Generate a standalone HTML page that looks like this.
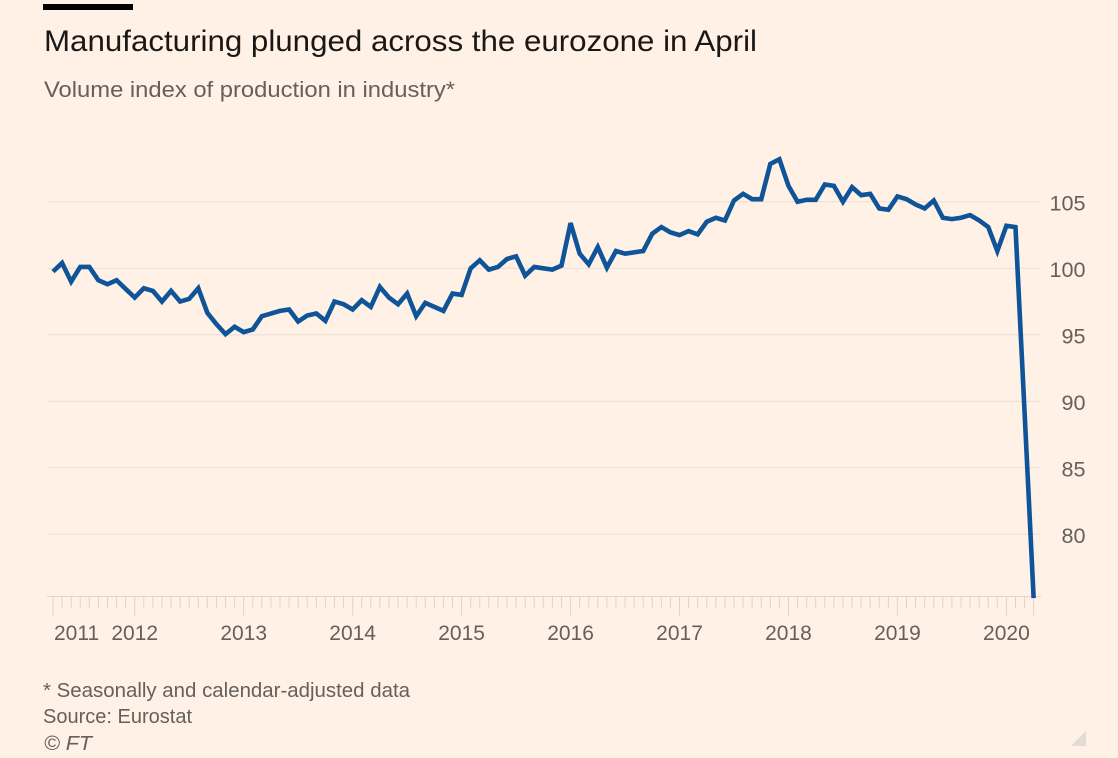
<!DOCTYPE html>
<html lang="en">
<head>
<meta charset="utf-8">
<title>Manufacturing plunged across the eurozone in April</title>
<style>
html,body{margin:0;padding:0;background:#fff1e5;}
svg{display:block;}
text{font-family:"Liberation Sans",sans-serif;}
</style>
</head>
<body>
<svg id="chart" xmlns="http://www.w3.org/2000/svg" width="1118" height="758" viewBox="0 0 1118 758">
  <rect width="1118" height="758" fill="#fff1e5"/>
  <rect x="43" y="4" width="90" height="6" fill="#000"/>
  <text x="44" y="51" font-size="30" fill="#1a1816" textLength="713" lengthAdjust="spacingAndGlyphs">Manufacturing plunged across the eurozone in April</text>
  <text x="44" y="97" font-size="22" fill="#66605c" textLength="411" lengthAdjust="spacingAndGlyphs">Volume index of production in industry*</text>
  <g id="grid"></g>
  <g id="yLabels"></g>
  <g id="xAxis"></g>
  <path id="line" fill="none" stroke="#0f5499" stroke-width="4.6" stroke-linejoin="miter" stroke-miterlimit="4"/>
  <text x="43" y="697" font-size="20" fill="#66605c" textLength="367" lengthAdjust="spacingAndGlyphs">* Seasonally and calendar-adjusted data</text>
  <text x="43" y="723" font-size="20" fill="#66605c" textLength="149" lengthAdjust="spacingAndGlyphs">Source: Eurostat</text>
  <text x="44" y="750" font-size="20" font-style="italic" fill="#66605c" textLength="48" lengthAdjust="spacingAndGlyphs">© FT</text>
  <polygon points="1086,731 1086,746 1071,746" fill="#e2dcd6"/>
</svg>
<script>
const startYear = 2011;
const startMonth = 4;
const seriesValues = [
  99.75,100.4,99.0,100.1,100.1,99.1,98.8,99.1,98.45,97.8,
  98.5,98.3,97.5,98.3,97.5,97.7,98.5,96.65,95.8,95.05,
  95.6,95.2,95.4,96.4,96.6,96.8,96.9,96.0,96.45,96.6,
  96.05,97.5,97.3,96.9,97.6,97.1,98.6,97.8,97.3,98.1,
  96.4,97.4,97.1,96.8,98.1,98.0,100.0,100.6,99.9,100.1,
  100.7,100.9,99.45,100.1,100.0,99.9,100.2,103.4,101.1,100.3,
  101.6,100.05,101.3,101.1,101.2,101.3,102.6,103.1,102.7,102.5,
  102.8,102.55,103.5,103.8,103.6,105.1,105.6,105.2,105.2,107.85,
  108.2,106.2,105.0,105.15,105.15,106.3,106.2,105.0,106.1,105.5,
  105.6,104.5,104.4,105.4,105.2,104.8,104.5,105.1,103.8,103.7,
  103.8,104.0,103.6,103.1,101.3,103.2,103.1,89.2,75.2
];
const yTicks = [105,100,95,90,85,80];
const yearLabels = [2011,2012,2013,2014,2015,2016,2017,2018,2019,2020];

const NS = 'http://www.w3.org/2000/svg';
const xScale = i => 53 + i * 9.08;
const yScale = v => 268.3 - (v - 100) * 13.3;
const axisY = 596.5;

function make(parent, tag, attrs, text) {
  const el = document.createElementNS(NS, tag);
  for (const k in attrs) el.setAttribute(k, attrs[k]);
  if (text !== undefined) el.textContent = text;
  parent.appendChild(el);
  return el;
}

const grid = document.getElementById('grid');
const yLabels = document.getElementById('yLabels');
yTicks.forEach(t => {
  const gl = make(grid, 'line', {x1: 47, x2: 1040, y1: yScale(t), y2: yScale(t), stroke: '#e9ded5', 'stroke-width': 1});
  
  
  const lb = make(yLabels, 'text', {x: 1085.5, y: yScale(t) + 8.5, 'text-anchor': 'end', 'font-size': 21.6, fill: '#66605c'}, String(t));
  
  
});

const xAxis = document.getElementById('xAxis');
const baseline = make(xAxis, 'line', {x1: 47, x2: 1041, y1: axisY, y2: axisY, stroke: '#e3d6cb', 'stroke-width': 1});


seriesValues.forEach((v, i) => {
  const month = (startMonth - 1 + i) % 12;
  const long = month === 0 || i === 0 || i === seriesValues.length - 1;
  const tk = make(xAxis, 'line', {x1: xScale(i), x2: xScale(i), y1: axisY, y2: axisY + (long ? 19 : 12), stroke: '#e0d3c8', 'stroke-width': 1});
  
  
});
yearLabels.forEach(y => {
  const idx = (y - startYear) * 12 - (startMonth - 1);
  const first = idx < 0;
  const lb = make(xAxis, 'text', {
    x: first ? xScale(0) + 1 : xScale(idx),
    y: 640,
    'text-anchor': first ? 'start' : 'middle',
    'font-size': 21,
    fill: '#66605c'
  }, String(y));
  
  
});

document.getElementById('line').setAttribute('d',
  seriesValues.map((v, i) => (i ? 'L' : 'M') + xScale(i).toFixed(2) + ' ' + yScale(v).toFixed(2)).join(' '));
</script>
</body>
</html>
